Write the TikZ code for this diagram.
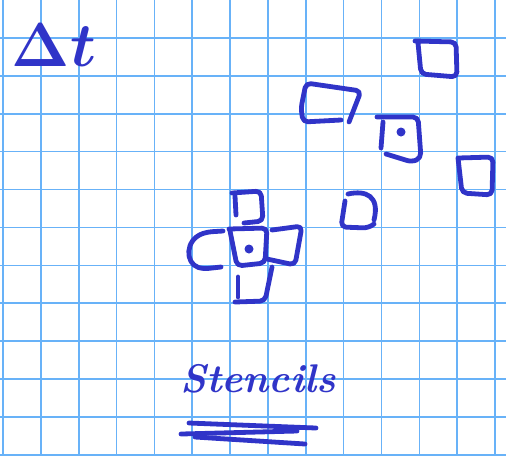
\documentclass[tikz,border=0pt]{standalone}
\usepackage{amsmath,amssymb}
\usepackage{graphicx}
\usepackage{xcolor}
\definecolor{paper}{HTML}{ffffff}
\definecolor{gridcolor}{HTML}{68b2f8}
\definecolor{inkcolor}{HTML}{3034c8}
\usepackage{tikz}
\usetikzlibrary{positioning,calc}
\tikzset{
    gridline/.style={
        draw=gridcolor,
        line width=0.8pt,
    },
    pen/.style={
        draw=inkcolor,
        line width=2.4pt,
        line cap=round,
        line join=round,
        rounded corners=2.5pt,
    },
    inkdot/.style={
        fill=inkcolor,
    },
    hand/.style={
        text=inkcolor,
        inner sep=0pt,
    },
}

\begin{document}
\begin{tikzpicture}[x=0.5pt,y=-0.5pt]
    \useasboundingbox (0,0) rectangle (506,456);
    \fill[paper] (0,0) rectangle (506,456);
    % squared paper
    \foreach \k in {0,...,13}
        \draw[gridline] ({3+37.85*\k},0) -- ({3+37.85*\k},456);
    \foreach \k in {1,...,12}
        \draw[gridline] (0,{37.9*\k}) -- (506,{37.9*\k});

    % labels
    \node[hand, font=\Huge\boldmath] (dt) at (54,45) {\scalebox{1.25}{$\Delta t$}};
    \node[hand, font=\fontsize{20}{24}\selectfont\bfseries\itshape] (stencils) at (258,379) {Stencils};

    % underline of the title
    \draw[pen] (189,423) -- (316,428);
    \draw[pen] (181,434) -- (297,431);
    \draw[pen] (195,437) -- (305,444);

    % cross stencil
    \draw[pen] (232,193) -- (261,191) -- (263,221) -- (244,223);
    \draw[pen] (235,196) -- (236,215);
    \draw[pen] (229,229) -- (267,228) -- (265,263) -- (237,266) -- (230,231);
    \draw[pen] (272,230) -- (302,226) -- (295,265) -- (267,259);
    \draw[pen] (223,231) -- (207,232) .. controls (185,240) and (185,263) .. (203,269) -- (221,267);
    \draw[pen] (238,277) -- (238,297);
    \draw[pen] (235,302) -- (265,301) -- (272,267);
    \fill[inkdot] (249,249) circle (4.5);

    % scattered stencil
    \draw[pen] (415,41) -- (456,42) -- (457,77) -- (421,74) -- (418,43);
    \draw[pen] (341,120) -- (303,122) -- (301,108) -- (306,83) -- (361,91) -- (349,122);
    \draw[pen] (377,117) -- (418,117) -- (421,158) -- (412,162) -- (386,154);
    \draw[pen] (383,122) -- (381,148);
    \fill[inkdot] (401,132) circle (4.5);
    \draw[pen] (458,158) -- (493,157) -- (492,195) -- (462,193) -- (458,158);
    \draw[pen] (348,194) .. controls (366,190) and (380,196) .. (374,220);
    \draw[pen] (374,224) -- (368,228) -- (341,227) -- (345,201);
\end{tikzpicture}
\end{document}
